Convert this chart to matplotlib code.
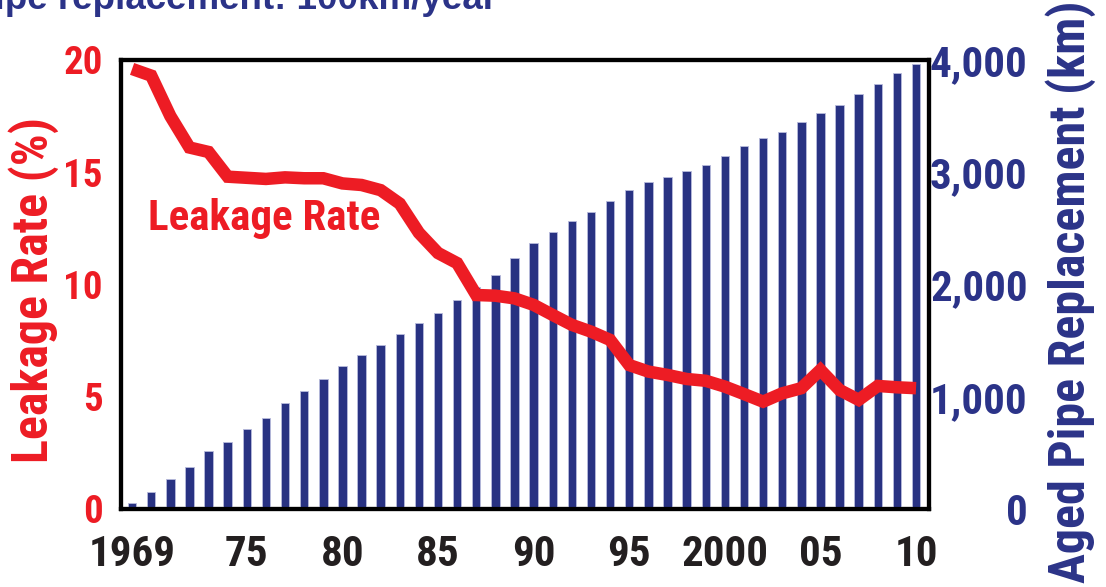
import matplotlib
matplotlib.use('Agg')
import matplotlib.pyplot as plt
import numpy as np

# Datos
years = list(range(1969, 2011))
pipe_km = [55, 150, 265, 375, 515, 600, 710, 810, 940, 1050,
           1160, 1270, 1370, 1460, 1555, 1655, 1750, 1860, 1975, 2085,
           2240, 2370, 2470, 2565, 2645, 2745, 2840, 2915, 2960, 3010,
           3065, 3145, 3235, 3305, 3360, 3450, 3530, 3600, 3700, 3790,
           3885, 3960]
leak_rate = [19.6, 19.3, 17.5, 16.1, 15.9, 14.8, 14.75, 14.7, 14.77, 14.73,
             14.73, 14.5, 14.43, 14.2, 13.6, 12.3, 11.4, 10.95, 9.53, 9.5,
             9.38, 9.09, 8.64, 8.2, 7.9, 7.53, 6.41, 6.12, 5.97, 5.79,
             5.71, 5.45, 5.12, 4.78, 5.15, 5.38, 6.19, 5.3, 4.86, 5.48,
             5.42, 5.38]
xtick_pos = [1969, 1975, 1980, 1985, 1990, 1995, 2000, 2005, 2010]
xtick_lbl = ['1969', '75', '80', '85', '90', '95', '2000', '05', '10']
left_ticks = [0, 5, 10, 15, 20]
right_ticks = [0, 1000, 2000, 3000, 4000]
right_lbl = ['0', '1,000', '2,000', '3,000', '4,000']

RED = '#ED1C24'
NAVY = '#2B3388'
BAR = '#283282'
NARROW = ['Roboto Condensed', 'Liberation Sans', 'DejaVu Sans']

fig = plt.figure(figsize=(11.06, 5.87), dpi=100)
ax = fig.add_axes([0.1094, 0.1329, 0.7306, 0.765])
ax2 = ax.twinx()

# Barras (eje derecho)
ax2.bar(years, pipe_km, width=0.44, color=BAR, edgecolor='#b8bbdc',
        linewidth=0.6, zorder=3)
ax2.set_ylim(0, 4000)
ax2.set_axisbelow(True)
ax2.set_yticks(right_ticks)
ax2.set_yticks([1000, 2000, 3000], minor=True)
ax2.set_xticks(range(1970, 2011, 5), minor=True)
ax2.grid(which='minor', color='#333333', linestyle=(0, (1, 2)), linewidth=1.0)
ax2.set_yticklabels(right_lbl, color=NAVY, fontsize=31, fontweight='bold',
                    family=NARROW, ha='right')
ax2.tick_params(axis='y', which='both', length=0, pad=71)

# Línea de fugas (eje izquierdo, al frente)
ax.set_zorder(ax2.get_zorder() + 1)
ax.patch.set_visible(False)
ax.plot(years, leak_rate, color=RED, linewidth=9, solid_joinstyle='miter',
        solid_capstyle='butt', zorder=5)
ax.set_ylim(0, 20)
ax.set_xlim(1968.42, 2010.68)
ax.set_yticks(left_ticks)
ax.set_yticklabels([str(v) for v in left_ticks], color=RED, fontsize=28,
                   fontweight='bold', family=NARROW)
ax.set_xticks(xtick_pos)
ax.set_xticklabels(xtick_lbl, color='#231F20', fontsize=31, fontweight='bold',
                   family=NARROW)
ax.tick_params(axis='y', length=0, pad=13)
ax.tick_params(axis='x', length=0, pad=18)
ax.tick_params(axis='x', which='minor', length=0)

for a in (ax, ax2):
    for s in a.spines.values():
        s.set_linewidth(3)
        s.set_color('black')

ax.text(1969.83, 12.43, 'Leakage Rate', color=RED, fontsize=31,
        fontweight='bold', family=NARROW, va='baseline', ha='left', zorder=6)

# Etiquetas de ejes
fig.text(48 / 1106, 1 - 290 / 587, 'Leakage Rate (%)', color=RED, fontsize=36,
         fontweight='bold', family=NARROW, rotation=90, rotation_mode='anchor',
         ha='center', va='baseline')
fig.text(1085 / 1106, 1 - 292 / 587, 'Aged Pipe Replacement (km)', color=NAVY,
         fontsize=36, fontweight='bold', family=NARROW, rotation=90,
         rotation_mode='anchor', ha='center', va='baseline')

# Título recortado arriba (como en la imagen original)
fig.text(497 / 1106, 1 - 9 / 587, 'Aged pipe replacement: 100km/year',
         color=NAVY, fontsize=26.5, fontweight='bold', family='Liberation Sans',
         ha='right', va='baseline')

fig.savefig('out.png', dpi=100)
